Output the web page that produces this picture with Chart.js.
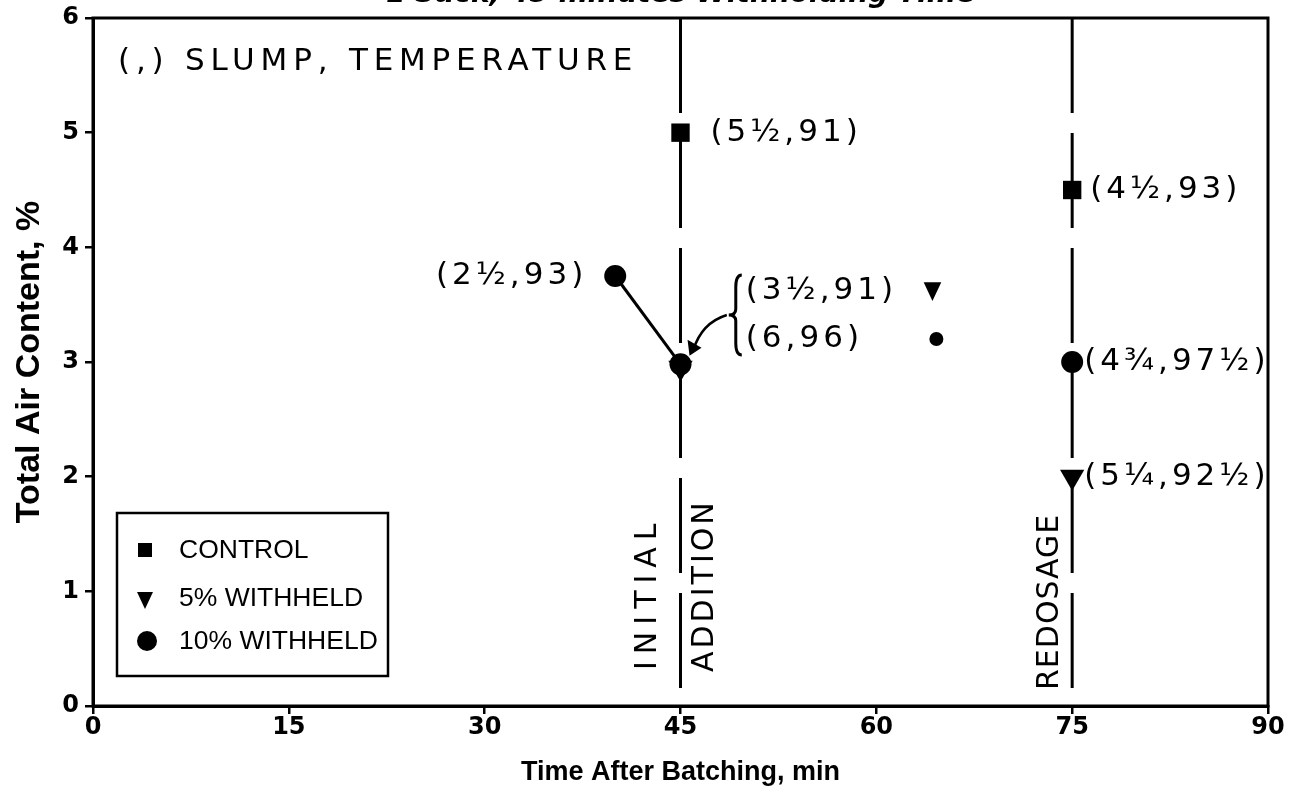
<!DOCTYPE html>
<html>
<head>
<meta charset="utf-8">
<script src="https://cdn.jsdelivr.net/npm/chart.js@4.4.1/dist/chart.umd.min.js"></script>
<style>
  html, body { margin: 0; padding: 0; background: #fff; }
</style>
</head>
<body>
<canvas id="chart" width="1289" height="804"></canvas>
<script>
// data
const xTicks = [0, 15, 30, 45, 60, 75, 90];
const yTicks = [0, 1, 2, 3, 4, 5, 6];

const controlTime = [45, 75];
const controlAir = [5.0, 4.5];
const withheld5Time = [45, 75];
const withheld5Air = [2.95, 2.0];
const withheld10Time = [40, 45, 75];
const withheld10Air = [3.75, 2.98, 3.0];

const seriesNames = ["CONTROL", "5% WITHHELD", "10% WITHHELD"];
// (slump, temperature) beside each point
const controlNotes = ["(5½,91)", "(4½,93)"];
const withheld5Notes = ["(3½,91)", "(5¼,92½)"];
const withheld10Notes = ["(2½,93)", "(6,96)", "(4¾,97½)"];

const eventTimes = [45, 75];
const eventLabels = [["INITIAL", "ADDITION"], ["REDOSAGE"]];

const titleText = "1 Sack, 45 minutes Withholding Time";
const keyText = "(,) SLUMP, TEMPERATURE";

function pts(xs, ys) {
  return xs.map((x, i) => ({ x: x, y: ys[i] }));
}

const noteFont = "31px 'DejaVu Sans'";

function drawTriangleDown(ctx, x, y, r) {
  ctx.beginPath();
  ctx.moveTo(x - r * 0.8, y - r * 0.7);
  ctx.lineTo(x + r * 0.8, y - r * 0.7);
  ctx.lineTo(x, y + r);
  ctx.closePath();
  ctx.fill();
}

const decor = {
  id: "decor",
  beforeDatasetsDraw(chart) {
    const { ctx, chartArea: a, scales } = chart;
    ctx.save();
    // frame
    ctx.strokeStyle = "#000";
    ctx.lineWidth = 3;
    ctx.strokeRect(a.left, a.top, a.right - a.left, a.bottom - a.top);
    // event lines
    ctx.setLineDash([95, 20]);
    ctx.lineWidth = 3;
    eventTimes.forEach(t => {
      const x = scales.x.getPixelForValue(t);
      ctx.beginPath();
      ctx.moveTo(x, a.top);
      ctx.lineTo(x, a.bottom);
      ctx.stroke();
    });
    ctx.setLineDash([]);
    // title, cut by the top edge
    ctx.fillStyle = "#000";
    ctx.font = "italic bold 28px 'DejaVu Sans'";
    ctx.textAlign = "center";
    ctx.textBaseline = "alphabetic";
    ctx.fillText(titleText, (a.left + a.right) / 2, 2);
    ctx.restore();
  },
  afterDatasetsDraw(chart) {
    const { ctx, chartArea: a, scales } = chart;
    const X = v => scales.x.getPixelForValue(v);
    const Y = v => scales.y.getPixelForValue(v);
    ctx.save();
    ctx.fillStyle = "#000";
    ctx.strokeStyle = "#000";
    ctx.textBaseline = "middle";
    ctx.font = noteFont;

    // key text
    ctx.textAlign = "left";
    ctx.letterSpacing = "5.8px";
    ctx.fillText(keyText, a.left + 25, a.top + 44);
    ctx.letterSpacing = "4px";

    // point notes
    ctx.fillText(controlNotes[0], X(controlTime[0]) + 30, Y(controlAir[0]));
    ctx.fillText(controlNotes[1], X(controlTime[1]) + 18, Y(controlAir[1]));
    ctx.fillText(withheld10Notes[2], X(withheld10Time[2]) + 12, Y(withheld10Air[2]));
    ctx.fillText(withheld5Notes[1], X(withheld5Time[1]) + 12, Y(withheld5Air[1]));
    ctx.textAlign = "right";
    ctx.fillText(withheld10Notes[0], X(withheld10Time[0]) - 28, Y(withheld10Air[0]));

    // bracketed notes for the 45 min points
    ctx.textAlign = "left";
    const bx = X(50), y1 = Y(3.62), y2 = Y(3.2);
    ctx.fillText(withheld5Notes[0], bx, y1);
    ctx.fillText(withheld10Notes[1], bx, y2);
    drawTriangleDown(ctx, X(64.3), y1 - 1, 11);
    ctx.beginPath();
    ctx.arc(X(64.6), y2, 7, 0, Math.PI * 2);
    ctx.fill();

    // brace
    ctx.lineWidth = 3;
    const cx = bx - 10, mid = (y1 + y2) / 2;
    ctx.beginPath();
    ctx.moveTo(cx + 6, y1 - 16);
    ctx.quadraticCurveTo(cx, y1 - 16, cx, y1 - 4);
    ctx.lineTo(cx, mid - 6);
    ctx.quadraticCurveTo(cx, mid, cx - 7, mid);
    ctx.quadraticCurveTo(cx, mid, cx, mid + 6);
    ctx.lineTo(cx, y2 + 4);
    ctx.quadraticCurveTo(cx, y2 + 16, cx + 6, y2 + 16);
    ctx.stroke();

    // arrow to the 45 min points
    const tx = X(45) + 9, ty = Y(2.95) - 12;
    ctx.lineWidth = 2.5;
    ctx.beginPath();
    ctx.moveTo(cx - 9, mid);
    ctx.quadraticCurveTo(tx + 12, mid + 8, tx + 4, ty - 6);
    ctx.stroke();
    ctx.beginPath();
    ctx.moveTo(tx, ty);
    ctx.lineTo(tx - 2, ty - 16);
    ctx.lineTo(tx + 12, ty - 8);
    ctx.closePath();
    ctx.fill();

    // vertical event labels
    ctx.font = "30px 'DejaVu Sans'";
    ctx.textAlign = "left";
    const vl = [
      [X(eventTimes[0]) - 32, a.bottom - 36, eventLabels[0][0], "7px"],
      [X(eventTimes[0]) + 25, a.bottom - 34, eventLabels[0][1], "3px"],
      [X(eventTimes[1]) - 22, a.bottom - 16, eventLabels[1][0], "1px"]
    ];
    vl.forEach(([x, y, s, sp]) => {
      ctx.save();
      ctx.letterSpacing = sp;
      ctx.translate(x, y);
      ctx.rotate(-Math.PI / 2);
      ctx.fillText(s, 0, 0);
      ctx.restore();
    });
    ctx.letterSpacing = "0px";

    // legend box
    const lx = a.left + 24, ly = a.bottom - 193, lw = 271, lh = 163;
    ctx.fillStyle = "#fff";
    ctx.fillRect(lx, ly, lw, lh);
    ctx.lineWidth = 2.5;
    ctx.strokeRect(lx, ly, lw, lh);
    ctx.fillStyle = "#000";
    ctx.font = "26.5px 'Liberation Sans'";
    const rowY = [ly + 37, ly + 85, ly + 128];
    chart.data.datasets.forEach((ds, i) => {
      const mx = lx + 28, my = rowY[i];
      if (ds.pointStyle === "rect") {
        ctx.fillRect(mx - 7, my - 7, 14, 14);
      } else if (ds.pointStyle === "triangle") {
        drawTriangleDown(ctx, mx, my + 1, 10);
      } else {
        ctx.beginPath();
        ctx.arc(mx + 2, my, 10, 0, Math.PI * 2);
        ctx.fill();
      }
      ctx.fillText(ds.label, lx + 62, my + 1);
    });
    ctx.restore();
  }
};

const axisFont = { family: "'DejaVu Sans'", size: 24, weight: "bold", lineHeight: 1 };

new Chart(document.getElementById("chart"), {
  type: "scatter",
  data: {
    datasets: [
      {
        label: seriesNames[0],
        data: pts(controlTime, controlAir),
        pointStyle: "rect",
        pointRadius: 13,
        backgroundColor: "#000",
        borderColor: "#000",
        pointBorderWidth: 0
      },
      {
        label: seriesNames[1],
        data: pts(withheld5Time, withheld5Air),
        pointStyle: "triangle",
        rotation: 180,
        pointRadius: 14,
        backgroundColor: "#000",
        borderColor: "#000",
        pointBorderWidth: 0
      },
      {
        label: seriesNames[2],
        data: pts(withheld10Time, withheld10Air),
        pointStyle: "circle",
        pointRadius: 11,
        backgroundColor: "#000",
        borderColor: "#000",
        borderWidth: 3,
        pointBorderWidth: 0,
        showLine: true,
        segment: {
          borderColor: c => c.p0DataIndex === 0 ? "#000" : "rgba(0,0,0,0)"
        }
      }
    ]
  },
  options: {
    responsive: false,
    animation: false,
    layout: { padding: { top: 17, right: 21, left: 0, bottom: 0 } },
    plugins: { legend: { display: false }, tooltip: { enabled: false } },
    scales: {
      x: {
        type: "linear",
        min: 0,
        max: 90,
        afterBuildTicks: s => { s.ticks = xTicks.map(v => ({ value: v })); },
        afterFit: s => { s.height = 98; },
        ticks: { color: "#000", font: axisFont, padding: 2, maxRotation: 0 },
        grid: { drawOnChartArea: false, tickLength: 8, color: "#000", lineWidth: 2.5 },
        border: { color: "#000", width: 3 },
        title: {
          display: true,
          text: "Time After Batching, min",
          color: "#000",
          font: { family: "'Liberation Sans'", size: 27, weight: "bold" },
          padding: { top: 0, bottom: 15 }
        }
      },
      y: {
        type: "linear",
        min: 0,
        max: 6,
        afterBuildTicks: s => { s.ticks = yTicks.map(v => ({ value: v })); },
        afterFit: s => { s.width = 93; },
        ticks: { color: "#000", font: axisFont, padding: 6 },
        grid: { drawOnChartArea: false, tickLength: 8, color: "#000", lineWidth: 2.5 },
        border: { color: "#000", width: 3 },
        title: {
          display: true,
          text: "Total Air Content, %",
          color: "#000",
          font: { family: "'Liberation Sans'", size: 34, weight: "bold" },
          padding: { top: 9, bottom: 0 }
        }
      }
    }
  },
  plugins: [decor]
});
</script>
</body>
</html>
